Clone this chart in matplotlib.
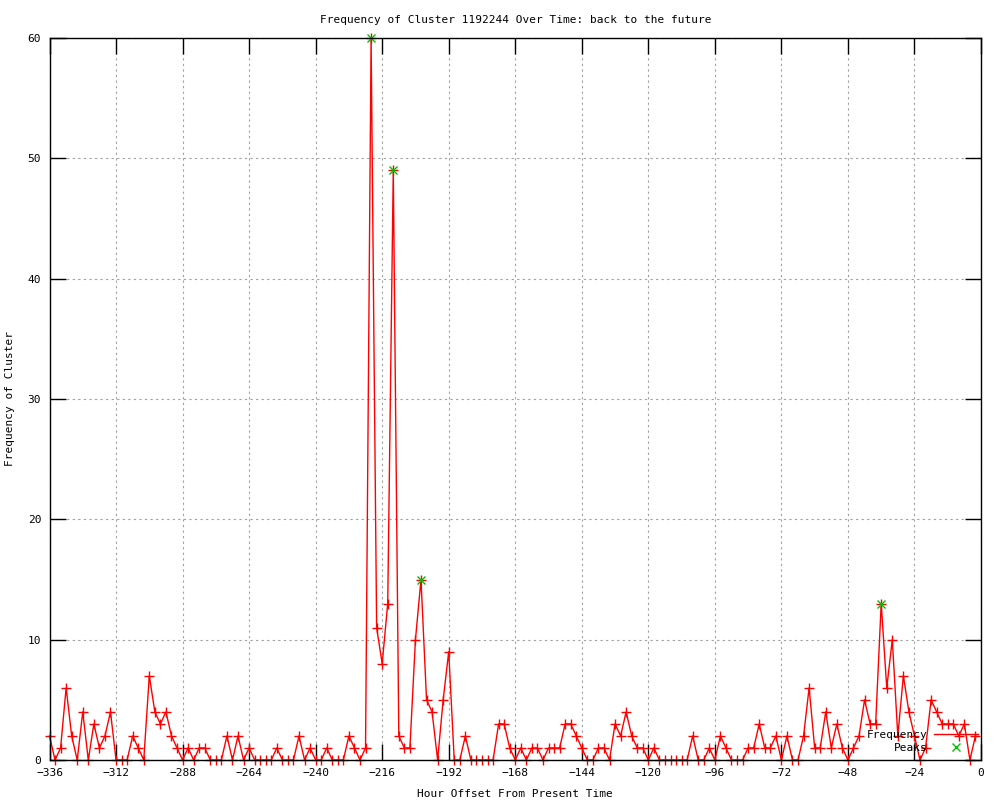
import numpy as np
import matplotlib as mpl
mpl.use("Agg")
import matplotlib.pyplot as plt
from matplotlib.lines import Line2D

mpl.rcParams.update({
    "font.family": "DejaVu Sans Mono",
    "font.size": 8,
})

# hourly samples every 2 hours, -336 .. -2
hours = np.arange(-336, 0, 2)
freq = [
    2, 0, 1, 6, 2, 0, 4, 0, 3, 1, 2, 4, 0, 0, 0, 2, 1, 0, 7, 4,
    3, 4, 2, 1, 0, 1, 0, 1, 1, 0, 0, 0, 2, 0, 2, 0, 1, 0, 0, 0,
    0, 1, 0, 0, 0, 2, 0, 1, 0, 0, 1, 0, 0, 0, 2, 1, 0, 1, 60, 11,
    8, 13, 49, 2, 1, 1, 10, 15, 5, 4, 0, 5, 9, 0, 0, 2, 0, 0, 0, 0,
    0, 3, 3, 1, 0, 1, 0, 1, 1, 0, 1, 1, 1, 3, 3, 2, 1, 0, 0, 1,
    1, 0, 3, 2, 4, 2, 1, 1, 0, 1, 0, 0, 0, 0, 0, 0, 2, 0, 0, 1,
    0, 2, 1, 0, 0, 0, 1, 1, 3, 1, 1, 2, 0, 2, 0, 0, 2, 6, 1, 1,
    4, 1, 3, 1, 0, 1, 2, 5, 3, 3, 13, 6, 10, 2, 7, 4, 2, 0, 1, 5,
    4, 3, 3, 3, 2, 3, 0, 2,
]
peak_hours = [-220, -212, -202, -36]
peak_vals = [60, 49, 15, 13]

xticks = list(range(-336, 1, 24))
yticks = list(range(0, 61, 10))

fig = plt.figure(figsize=(10, 8), dpi=100)
ax = fig.add_axes([0.0495, 0.05, 0.9315, 0.9025])

ax.plot(hours, freq, color="red", lw=1.0, marker="+", ms=7, mew=1.0,
        zorder=3, clip_on=False)
ax.plot(peak_hours, peak_vals, ls="none", marker="x", ms=6, mew=1.0,
        color="#00c000", zorder=4, clip_on=False)

ax.set_xlim(-336, 0)
ax.set_ylim(0, 60)
ax.set_xticks(xticks)
ax.set_yticks(yticks)
ax.set_xticklabels([str(t).replace("-", "\u2212") for t in xticks])
ax.tick_params(direction="in", length=11.5, width=1.0, top=True, right=True,
               labelsize=8, pad=6, colors="black")
ax.grid(True, color="#a0a0a0", ls=(0, (2, 3)), lw=0.8)
ax.set_axisbelow(True)
for s in ax.spines.values():
    s.set_linewidth(1.0)
    s.set_zorder(5)

ax.set_title("Frequency of Cluster 1192244 Over Time: back to the future",
             fontsize=8, pad=11)
ax.set_xlabel("Hour Offset From Present Time", fontsize=8, labelpad=8)
ax.set_ylabel("Frequency of Cluster", fontsize=8, labelpad=9)

handles = [Line2D([], [], color="red", lw=1.0),
           Line2D([], [], color="#00c000", ls="none", marker="x", ms=6)]
ax.legend(handles, ["Frequency", "Peaks"], loc="lower right",
          bbox_to_anchor=(1.008, -0.004), frameon=False, markerfirst=False,
          handlelength=4, handletextpad=0.6, labelspacing=0.3, fontsize=8)

fig.savefig("out.png", dpi=100)
